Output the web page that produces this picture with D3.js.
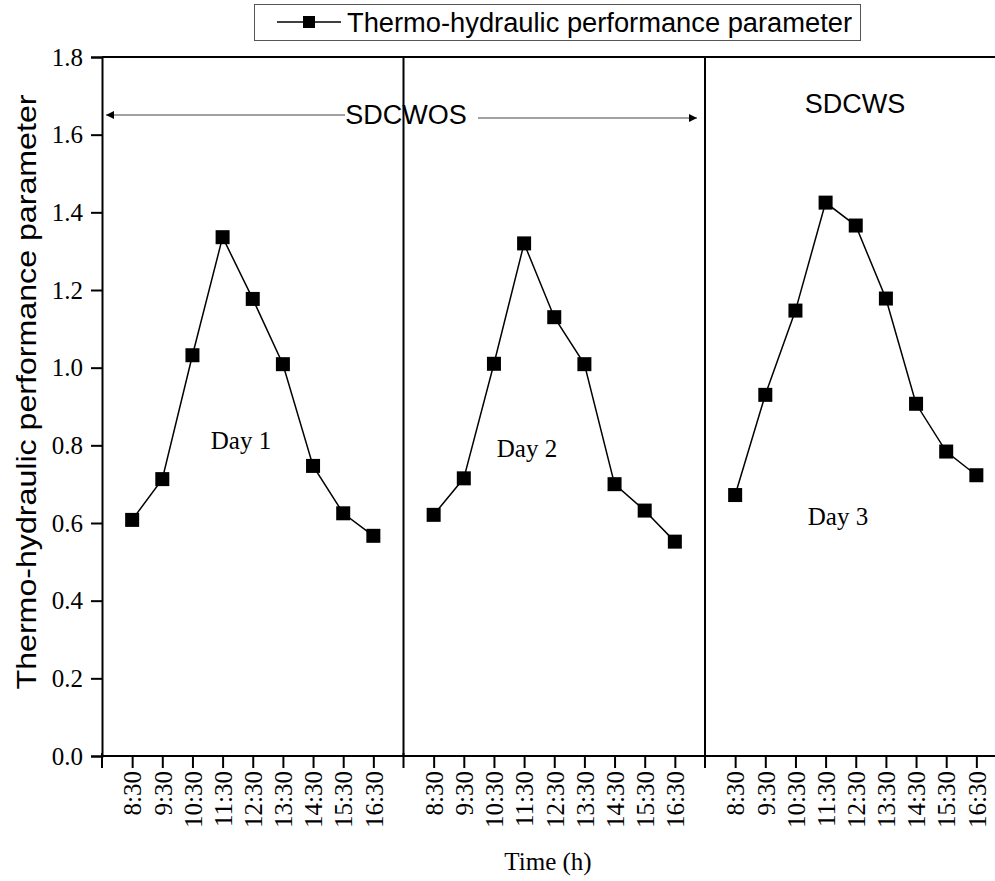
<!DOCTYPE html>
<html>
<head>
<meta charset="utf-8">
<script src="https://cdn.jsdelivr.net/npm/d3@7"></script>
<style>
  body { margin: 0; background: #fff; }
  svg text { fill: #000; }
</style>
</head>
<body>
<div id="chart"></div>
<script>
// values
var times = ["8:30", "9:30", "10:30", "11:30", "12:30", "13:30", "14:30", "15:30", "16:30"];
var day1 = [0.608, 0.713, 1.032, 1.336, 1.177, 1.009, 0.747, 0.625, 0.567];
var day2 = [0.621, 0.715, 1.010, 1.320, 1.130, 1.009, 0.700, 0.632, 0.552];
var day3 = [0.672, 0.930, 1.147, 1.425, 1.366, 1.178, 0.907, 0.784, 0.723];
var dayNames = ["Day 1", "Day 2", "Day 3"];
var yTicks = [0.0, 0.2, 0.4, 0.6, 0.8, 1.0, 1.2, 1.4, 1.6, 1.8];
var legendLabel = "Thermo-hydraulic performance parameter";

var width = 995, height = 881;
var serif = "'Liberation Serif', 'Times New Roman', serif";
var sans = "'Liberation Sans', Arial, sans-serif";

var svg = d3.select("#chart").append("svg")
    .attr("width", width)
    .attr("height", height);

// each day takes 10 slots on the x axis, with a break line between days
var x = d3.scaleLinear().domain([0, 30]).range([102, 102 + 30 * 30.15]);
var y = d3.scaleLinear().domain([0, 1.8]).range([756, 57]);

var days = [day1, day2, day3];
var points = [];
days.forEach(function(vals, di) {
  vals.forEach(function(v, i) {
    points.push({ day: di, pos: di * 10 + i + 1, value: v, label: times[i] });
  });
});

// frame: top line
svg.append("line")
    .attr("x1", x(0)).attr("x2", width)
    .attr("y1", y(1.8)).attr("y2", y(1.8))
    .attr("stroke", "#000").attr("stroke-width", 2);

// day separators
svg.selectAll(".sep")
    .data([10, 20])
    .enter().append("line")
    .attr("class", "sep")
    .attr("x1", function(d) { return x(d); })
    .attr("x2", function(d) { return x(d); })
    .attr("y1", y(1.8)).attr("y2", y(0))
    .attr("stroke", "#000").attr("stroke-width", 2);

// y axis
var yAxis = svg.append("g")
    .attr("transform", "translate(" + x(0) + ",0)")
    .call(d3.axisLeft(y).tickValues(yTicks).tickSize(11).tickPadding(8)
      .tickFormat(d3.format(".1f")));
yAxis.select(".domain").attr("stroke-width", 2);
yAxis.selectAll(".tick line").attr("stroke-width", 2);
yAxis.selectAll("text")
    .style("font-family", serif).style("font-size", "25px");

// x axis
var xAxis = svg.append("g")
    .attr("transform", "translate(0," + y(0) + ")")
    .call(d3.axisBottom(x)
      .tickValues(points.map(function(d) { return d.pos; }))
      .tickSize(12)
      .tickFormat(function(d, i) { return points[i].label; }));
xAxis.select(".domain").attr("d", "M" + x(0) + ",0H" + width).attr("stroke-width", 2);
xAxis.selectAll(".tick line").attr("stroke-width", 2);
xAxis.selectAll("text")
    .style("font-family", serif).style("font-size", "25px")
    .attr("text-anchor", "end")
    .attr("transform", "rotate(-90)")
    .attr("x", -15).attr("y", 0).attr("dy", "0.35em");

// longer ticks at the day breaks
svg.selectAll(".brk")
    .data([0, 10, 20])
    .enter().append("line")
    .attr("x1", function(d) { return x(d); })
    .attr("x2", function(d) { return x(d); })
    .attr("y1", y(0) - 3).attr("y2", y(0) + 12)
    .attr("stroke", "#000").attr("stroke-width", 2);

// lines and markers, one series per day
var line = d3.line()
    .x(function(d) { return x(d.pos); })
    .y(function(d) { return y(d.value); });

days.forEach(function(vals, di) {
  svg.append("path")
      .datum(points.filter(function(p) { return p.day == di; }))
      .attr("fill", "none")
      .attr("stroke", "#000")
      .attr("stroke-width", 1.5)
      .attr("d", line);
});

svg.append("g")
    .selectAll("rect")
    .data(points)
    .enter().append("rect")
    .attr("x", function(d) { return x(d.pos) - 7; })
    .attr("y", function(d) { return y(d.value) - 7; })
    .attr("width", 14).attr("height", 14)
    .attr("fill", "#000");

// day labels
var dayPos = [[241, 449], [527, 457], [838, 525]];
svg.selectAll(".day")
    .data(dayNames)
    .enter().append("text")
    .attr("x", function(d, i) { return dayPos[i][0]; })
    .attr("y", function(d, i) { return dayPos[i][1]; })
    .attr("text-anchor", "middle")
    .style("font-family", serif).style("font-size", "25px")
    .text(function(d) { return d; });

// SDCWOS annotation with arrows
var defs = svg.append("defs");
defs.append("marker")
    .attr("id", "arrow")
    .attr("viewBox", "0 0 10 10")
    .attr("refX", 10).attr("refY", 5)
    .attr("markerWidth", 14).attr("markerHeight", 8)
    .attr("markerUnits", "userSpaceOnUse")
    .attr("orient", "auto")
    .append("path").attr("d", "M0,0L10,5L0,10Z").attr("fill", "#000");

svg.append("line")
    .attr("x1", 345).attr("y1", 115).attr("x2", x(0) + 4).attr("y2", 115)
    .attr("stroke", "#444").attr("stroke-width", 1.2)
    .attr("marker-end", "url(#arrow)");
svg.append("line")
    .attr("x1", 478).attr("y1", 118).attr("x2", x(20) - 8).attr("y2", 118)
    .attr("stroke", "#444").attr("stroke-width", 1.2)
    .attr("marker-end", "url(#arrow)");

svg.append("text")
    .attr("x", 406).attr("y", 124)
    .attr("text-anchor", "middle")
    .style("font-family", sans).style("font-size", "27px")
    .text("SDCWOS");
svg.append("text")
    .attr("x", 855).attr("y", 113)
    .attr("text-anchor", "middle")
    .style("font-family", sans).style("font-size", "27px")
    .text("SDCWS");

// axis titles
svg.append("text")
    .attr("transform", "translate(36,392) rotate(-90)")
    .attr("text-anchor", "middle")
    .style("font-family", sans).style("font-size", "28px")
    .attr("textLength", 595).attr("lengthAdjust", "spacingAndGlyphs")
    .text(legendLabel);

svg.append("text")
    .attr("x", 548).attr("y", 870)
    .attr("text-anchor", "middle")
    .style("font-family", serif).style("font-size", "25px")
    .text("Time (h)");

// legend
var lg = svg.append("g");
lg.append("rect")
    .attr("x", 254.5).attr("y", 4.5).attr("width", 606).attr("height", 36)
    .attr("fill", "#fff").attr("stroke", "#555").attr("stroke-width", 1);
lg.append("line")
    .attr("x1", 277).attr("x2", 341).attr("y1", 22).attr("y2", 22)
    .attr("stroke", "#000").attr("stroke-width", 1.5);
lg.append("rect")
    .attr("x", 303).attr("y", 16).attr("width", 12).attr("height", 12)
    .attr("fill", "#000");
lg.append("text")
    .attr("x", 347).attr("y", 32)
    .style("font-family", sans).style("font-size", "27px")
    .attr("textLength", 505).attr("lengthAdjust", "spacingAndGlyphs")
    .text(legendLabel);
</script>
</body>
</html>
